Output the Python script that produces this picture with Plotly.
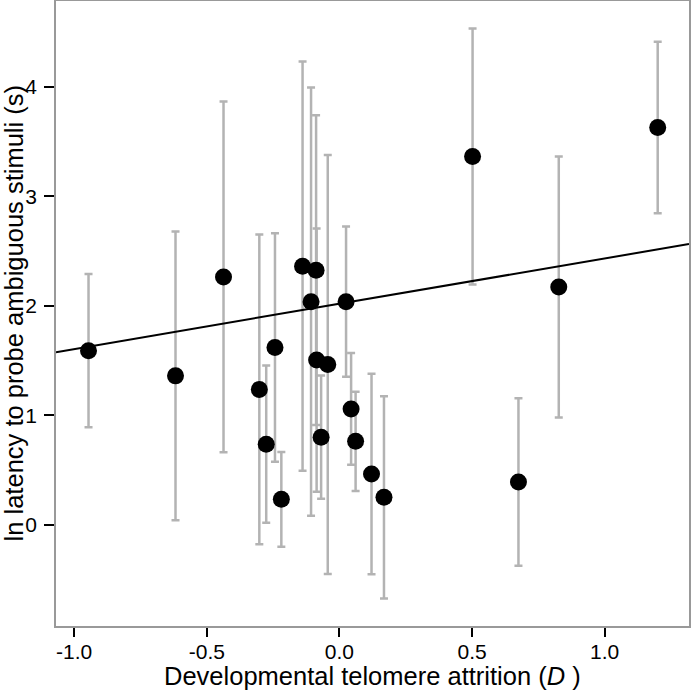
import plotly.graph_objects as go

# Data
telomere_attrition = [-0.946, -0.618, -0.437, -0.302, -0.276, -0.243, -0.219, -0.139,
                      -0.107, -0.088, -0.086, -0.069, -0.044, 0.025, 0.044, 0.061,
                      0.121, 0.168, 0.502, 0.675, 0.827, 1.200]
ln_latency = [1.59, 1.36, 2.264, 1.236, 0.736, 1.62, 0.232, 2.362,
              2.038, 2.326, 1.504, 0.80, 1.464, 2.038, 1.058, 0.762,
              0.463, 0.25, 3.364, 0.39, 2.172, 3.63]
latency_err = [0.70, 1.32, 1.603, 1.415, 0.718, 1.044, 0.433, 1.87,
               1.957, 1.415, 1.202, 0.563, 1.914, 0.686, 0.51, 0.454,
               0.917, 0.924, 1.17, 0.765, 1.192, 0.783]

fit_intercept = 2.019
fit_slope = 0.414

x_range = [-1.0686, 1.318]
y_range = [-0.926, 4.786]
x_ticks = [-1.0, -0.5, 0.0, 0.5, 1.0]
x_ticklabels = ["-1.0", "-0.5", "0.0", "0.5", "1.0"]
y_ticks = [0, 1, 2, 3, 4]

x_title = "Developmental telomere attrition (<i>D</i> )"
y_title = "ln latency to probe ambiguous stimuli (s)"

fig = go.Figure()

fit_x = [x_range[0], x_range[1]]
fit_y = [fit_intercept + fit_slope * v for v in fit_x]

fig.add_trace(go.Scatter(
    x=telomere_attrition, y=ln_latency, mode="markers",
    marker=dict(color="rgba(0,0,0,0)", size=1),
    error_y=dict(type="data", array=latency_err, visible=True,
                 color="#b3b3b3", thickness=2.5, width=4),
    showlegend=False, hoverinfo="skip"))

fig.add_trace(go.Scatter(
    x=fit_x, y=fit_y, mode="lines",
    line=dict(color="black", width=2), showlegend=False))

fig.add_trace(go.Scatter(
    x=telomere_attrition, y=ln_latency, mode="markers",
    marker=dict(color="black", size=17),
    showlegend=False))

font_family = "Liberation Sans, Arial, sans-serif"

fig.update_layout(
    width=692, height=693,
    margin=dict(l=56, r=3, t=1, b=67, autoexpand=False),
    paper_bgcolor="white", plot_bgcolor="white",
    font=dict(family=font_family, color="black"),
    xaxis=dict(
        range=x_range, tickvals=x_ticks, ticktext=x_ticklabels,
        showgrid=False, zeroline=False, automargin=False,
        showline=True, linecolor="#999999", linewidth=1.5, mirror=True,
        ticks="outside", ticklen=9, tickwidth=2, tickcolor="black",
        tickfont=dict(size=21, color="black"),
        ticklabelstandoff=-3,
    ),
    yaxis=dict(
        range=y_range, tickvals=y_ticks,
        showgrid=False, zeroline=False, automargin=False,
        showline=True, linecolor="#999999", linewidth=1.5, mirror=True,
        ticks="outside", ticklen=10, tickwidth=2, tickcolor="black",
        tickfont=dict(size=21, color="black"),
        ticklabelstandoff=3,
    ),
    annotations=[
        dict(text=x_title, xref="paper", yref="paper", x=0.5, y=-0.0800,
             xanchor="center", yanchor="middle", showarrow=False,
             font=dict(size=25.5, color="black")),
        dict(text=y_title, xref="paper", yref="paper", x=-0.0665, y=0.5,
             xanchor="center", yanchor="middle", showarrow=False, textangle=-90,
             font=dict(size=25.5, color="black")),
    ],
)

fig.write_html("out.html", config={"displayModeBar": False},
               post_script="document.body.style.margin='0';document.body.style.overflow='hidden';")
